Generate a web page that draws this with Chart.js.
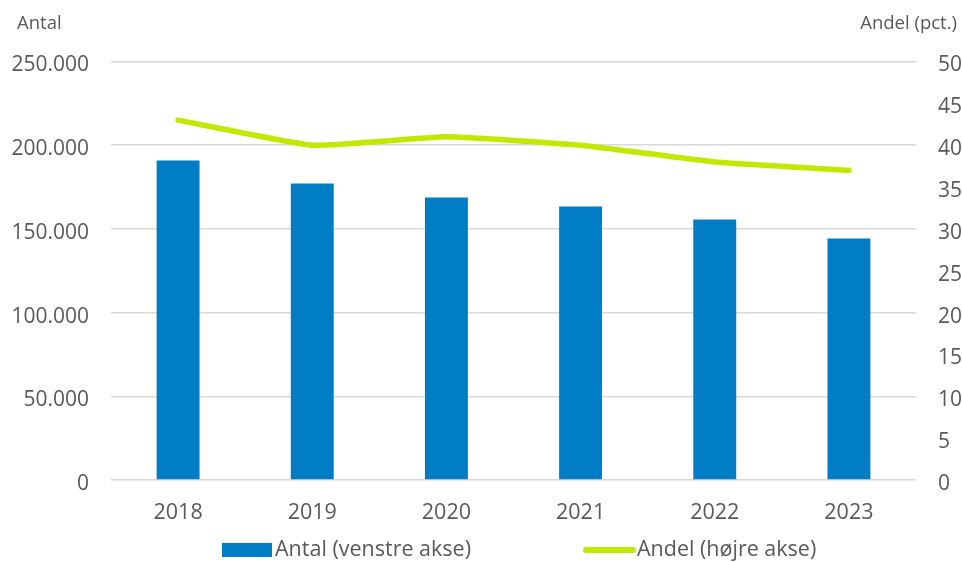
<!DOCTYPE html>
<html>
<head>
<meta charset="utf-8">
<script src="https://cdn.jsdelivr.net/npm/chart.js@4/dist/chart.umd.min.js"></script>
<style>
html,body{margin:0;padding:0;background:#fff;}
#wrap{width:962px;height:562px;position:relative;}
</style>
</head>
<body>
<div id="wrap"><canvas id="c" width="962" height="562"></canvas></div>
<script>
const categories = ['2018','2019','2020','2021','2022','2023'];
const antalValues = [190900, 177100, 168800, 163400, 155600, 144300];
const andelValues = [43.0, 40.0, 41.0, 40.0, 38.0, 37.0];
const antalLabel = 'Antal (venstre akse)';
const andelLabel = 'Andel (højre akse)';
const leftTitle = 'Antal';
const rightTitle = 'Andel (pct.)';

const FONT = "'Open Sans', 'Liberation Sans', sans-serif";
const TXT = '#595959';
const BAR = '#007DC5';
const LINE = '#C2E800';

const titlesAndLegend = {
  id: 'titlesAndLegend',
  afterDraw(chart) {
    const ctx = chart.ctx;
    ctx.save();
    ctx.fillStyle = TXT;
    ctx.textBaseline = 'middle';
    ctx.font = '18.5px ' + FONT;
    ctx.textAlign = 'left';
    ctx.fillText(leftTitle, 17, 24);
    ctx.textAlign = 'right';
    ctx.fillText(rightTitle, 957, 24);
    // legend
    const ds = chart.data.datasets;
    const barDs = ds.find(d => d.type === 'bar');
    const lineDs = ds.find(d => d.type === 'line');
    const y = 550;
    ctx.font = '21.5px ' + FONT;
    ctx.textAlign = 'left';
    // bar item
    ctx.fillStyle = barDs.backgroundColor;
    ctx.fillRect(222, y - 7, 50, 14);
    ctx.fillStyle = TXT;
    ctx.fillText(barDs.label, 275, y);
    // line item
    ctx.strokeStyle = lineDs.borderColor;
    ctx.lineWidth = 6;
    ctx.lineCap = 'round';
    ctx.beginPath();
    ctx.moveTo(586, y);
    ctx.lineTo(633, y);
    ctx.stroke();
    ctx.fillText(lineDs.label, 637, y);
    ctx.restore();
  }
};

new Chart(document.getElementById('c'), {
  data: {
    labels: categories,
    datasets: [
      {
        type: 'line',
        label: andelLabel,
        data: andelValues,
        yAxisID: 'y1',
        borderColor: LINE,
        backgroundColor: LINE,
        borderWidth: 5.5,
        pointRadius: 0,
        borderCapStyle: 'round',
        borderJoinStyle: 'round',
        tension: 0.12,
        order: 0
      },
      {
        type: 'bar',
        label: antalLabel,
        data: antalValues,
        yAxisID: 'y',
        backgroundColor: BAR,
        categoryPercentage: 1,
        barPercentage: 0.32,
        order: 1
      }
    ]
  },
  options: {
    responsive: false,
    animation: false,
    layout: { padding: { top: 61.5, left: 0, right: 0, bottom: 0 } },
    plugins: {
      legend: { display: false },
      tooltip: { enabled: false }
    },
    scales: {
      x: {
        grid: { display: false },
        border: { display: false },
        ticks: { color: TXT, font: { family: FONT, size: 21.5 }, padding: 12 },
        afterFit(s) { s.height = 82; }
      },
      y: {
        position: 'left',
        min: 0, max: 250000,
        ticks: {
          stepSize: 50000,
          color: TXT,
          font: { family: FONT, size: 21 },
          padding: 22,
          labelOffset: 4,
          callback: v => v === 0 ? '0' : v.toLocaleString('de-DE')
        },
        grid: { color: '#D9D9D9', lineWidth: 1.5, drawTicks: false },
        border: { display: false },
        afterFit(s) { s.width = 111; }
      },
      y1: {
        position: 'right',
        min: 0, max: 50,
        ticks: { stepSize: 5, color: TXT, font: { family: FONT, size: 21 }, padding: 22, labelOffset: 4 },
        grid: { display: false, drawTicks: false },
        border: { display: false },
        afterFit(s) { s.width = 46; }
      }
    }
  },
  plugins: [titlesAndLegend]
});
</script>
</body>
</html>
